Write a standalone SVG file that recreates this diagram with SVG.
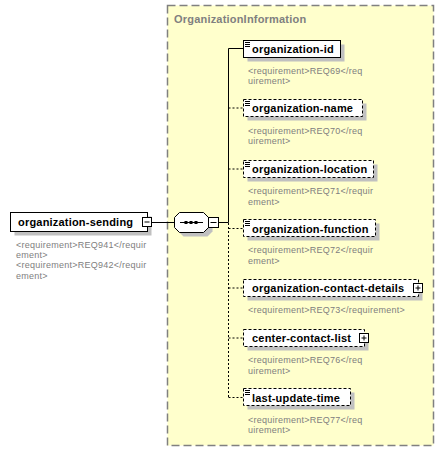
<svg xmlns="http://www.w3.org/2000/svg" width="445" height="452" viewBox="0 0 445 452">
<defs>
<style>
.bg{fill:#fff}
.t{font-family:"Liberation Sans",Arial,sans-serif;font-size:11px;font-weight:bold;fill:#000;letter-spacing:0.2px}
.ttl{font-family:"Liberation Sans",Arial,sans-serif;font-size:11px;font-weight:bold;fill:#808080;letter-spacing:0.2px}
.r{font-family:"Liberation Sans",Arial,sans-serif;font-size:9px;fill:#808080;letter-spacing:0.25px}
.sh{fill:#c0c0c0}
.box{fill:#fff;stroke:#000;stroke-width:1}
.opt{fill:#fff;stroke:#000;stroke-width:1;stroke-dasharray:3,2}
.ln{fill:none;stroke:#000;stroke-width:1}
.dl{fill:none;stroke:#000;stroke-width:1;stroke-dasharray:2,2}
.ic{fill:none;stroke:#000;stroke-width:1}
</style>
</defs>
<rect width="445" height="452" fill="#fff"/>
<g id="OrganizationInformation">
<rect x="167.5" y="5.5" width="266" height="440" fill="#ffffcc" stroke="#808080" stroke-width="1.5" stroke-dasharray="8,4"/>
<text class="ttl" x="174" y="23">OrganizationInformation</text>
</g>
<g id="connectors">
<line class="ln" x1="151.5" y1="222.5" x2="174.5" y2="222.5"/>
<line class="ln" x1="218.5" y1="222.5" x2="228.5" y2="222.5"/>
<line class="ln" x1="228.5" y1="48.5" x2="228.5" y2="222.5"/>
<line class="ln" x1="228.5" y1="48.5" x2="243.5" y2="48.5"/>
<line class="dl" x1="228.5" y1="223" x2="228.5" y2="397.5"/>
<line class="dl" x1="228.5" y1="108" x2="243.5" y2="108"/>
<line class="dl" x1="228.5" y1="169" x2="243.5" y2="169"/>
<line class="dl" x1="228.5" y1="228.5" x2="243.5" y2="228.5"/>
<line class="dl" x1="228.5" y1="288" x2="243.5" y2="288"/>
<line class="dl" x1="228.5" y1="338" x2="243.5" y2="338"/>
<line class="dl" x1="228.5" y1="397.5" x2="243.5" y2="397.5"/>
</g>
<g id="organization-sending">
<rect class="sh" x="14.5" y="216.5" width="137" height="19"/>
<rect class="box" x="10.5" y="212.5" width="137" height="19"/>
<text class="t" x="18" y="226">organization-sending</text>
<rect class="box" x="142.5" y="217.5" width="9" height="9"/>
<line class="ic" x1="144.5" y1="222" x2="149.5" y2="222"/>
<text class="r" x="16" y="247.5">&lt;requirement&gt;REQ941&lt;/requir</text>
<text class="r" x="16" y="258">ement&gt;</text>
<text class="r" x="16" y="268">&lt;requirement&gt;REQ942&lt;/requir</text>
<text class="r" x="16" y="278.5">ement&gt;</text>
</g>
<g id="sequence">
<polygon class="sh" points="183.5,216.5 207.5,216.5 212.5,221.5 212.5,231.5 207.5,236.5 183.5,236.5 178.5,231.5 178.5,221.5"/>
<polygon class="box" points="179.5,212.5 203.5,212.5 208.5,217.5 208.5,227.5 203.5,232.5 179.5,232.5 174.5,227.5 174.5,217.5"/>
<line class="ln" x1="180" y1="222.5" x2="203" y2="222.5"/>
<rect x="184.5" y="221" width="3" height="3" fill="#000"/>
<rect x="189.5" y="221" width="3" height="3" fill="#000"/>
<rect x="194.5" y="221" width="3" height="3" fill="#000"/>
<rect class="box" x="208.5" y="217.5" width="10" height="10"/>
<line class="ic" x1="210.5" y1="222.5" x2="216.5" y2="222.5"/>
</g>
<g id="organization-id">
<rect class="sh" x="247.5" y="44.5" width="97" height="17"/>
<rect class="box" x="243.5" y="40.5" width="97" height="17"/>
<path class="ic" d="M245,42.5h5M245,44.5h5M245,46.5h5"/>
<text class="t" x="252" y="52.5">organization-id</text>
<text class="r" x="248" y="73.5">&lt;requirement&gt;REQ69&lt;/req</text>
<text class="r" x="248" y="84">uirement&gt;</text>
</g>
<g id="organization-name">
<rect class="sh" x="247.5" y="103.5" width="119" height="17"/>
<rect class="opt" x="243.5" y="99.5" width="119" height="17"/>
<path class="ic" d="M245,101.5h5M245,103.5h5M245,105.5h5"/>
<text class="t" x="252" y="112">organization-name</text>
<text class="r" x="248" y="133.5">&lt;requirement&gt;REQ70&lt;/req</text>
<text class="r" x="248" y="144">uirement&gt;</text>
</g>
<g id="organization-location">
<rect class="sh" x="247.5" y="164.5" width="130" height="17"/>
<rect class="opt" x="243.5" y="160.5" width="130" height="17"/>
<path class="ic" d="M245,162.5h5M245,164.5h5M245,166.5h5"/>
<text class="t" x="252" y="173">organization-location</text>
<text class="r" x="248" y="194">&lt;requirement&gt;REQ71&lt;/requir</text>
<text class="r" x="248" y="204.5">ement&gt;</text>
</g>
<g id="organization-function">
<rect class="sh" x="247.5" y="223.5" width="132" height="17"/>
<rect class="opt" x="243.5" y="219.5" width="132" height="17"/>
<path class="ic" d="M245,221.5h5M245,223.5h5M245,225.5h5"/>
<text class="t" x="252" y="232.5">organization-function</text>
<text class="r" x="248" y="253">&lt;requirement&gt;REQ72&lt;/requir</text>
<text class="r" x="248" y="263.5">ement&gt;</text>
</g>
<g id="organization-contact-details">
<rect class="sh" x="247.5" y="283.5" width="175" height="17"/>
<rect class="opt" x="243.5" y="279.5" width="175" height="17"/>
<text class="t" x="252" y="292">organization-contact-details</text>
<rect class="box" x="413.5" y="283.5" width="9" height="9"/>
<path class="ic" d="M415.5,288h5M418,285.5v5"/>
<text class="r" x="248" y="313">&lt;requirement&gt;REQ73&lt;/requirement&gt;</text>
</g>
<g id="center-contact-list">
<rect class="sh" x="247.5" y="333.5" width="121" height="17"/>
<rect class="opt" x="243.5" y="329.5" width="121" height="17"/>
<text class="t" x="252" y="342">center-contact-list</text>
<rect class="box" x="359.5" y="333.5" width="9" height="9"/>
<path class="ic" d="M361.5,338h5M364,335.5v5"/>
<text class="r" x="248" y="363">&lt;requirement&gt;REQ76&lt;/req</text>
<text class="r" x="248" y="373.5">uirement&gt;</text>
</g>
<g id="last-update-time">
<rect class="sh" x="247.5" y="392.5" width="107" height="17"/>
<rect class="opt" x="243.5" y="388.5" width="107" height="17"/>
<path class="ic" d="M245,390.5h5M245,392.5h5M245,394.5h5"/>
<text class="t" x="252" y="401.5">last-update-time</text>
<text class="r" x="248" y="422.5">&lt;requirement&gt;REQ77&lt;/req</text>
<text class="r" x="248" y="433">uirement&gt;</text>
</g>
</svg>
